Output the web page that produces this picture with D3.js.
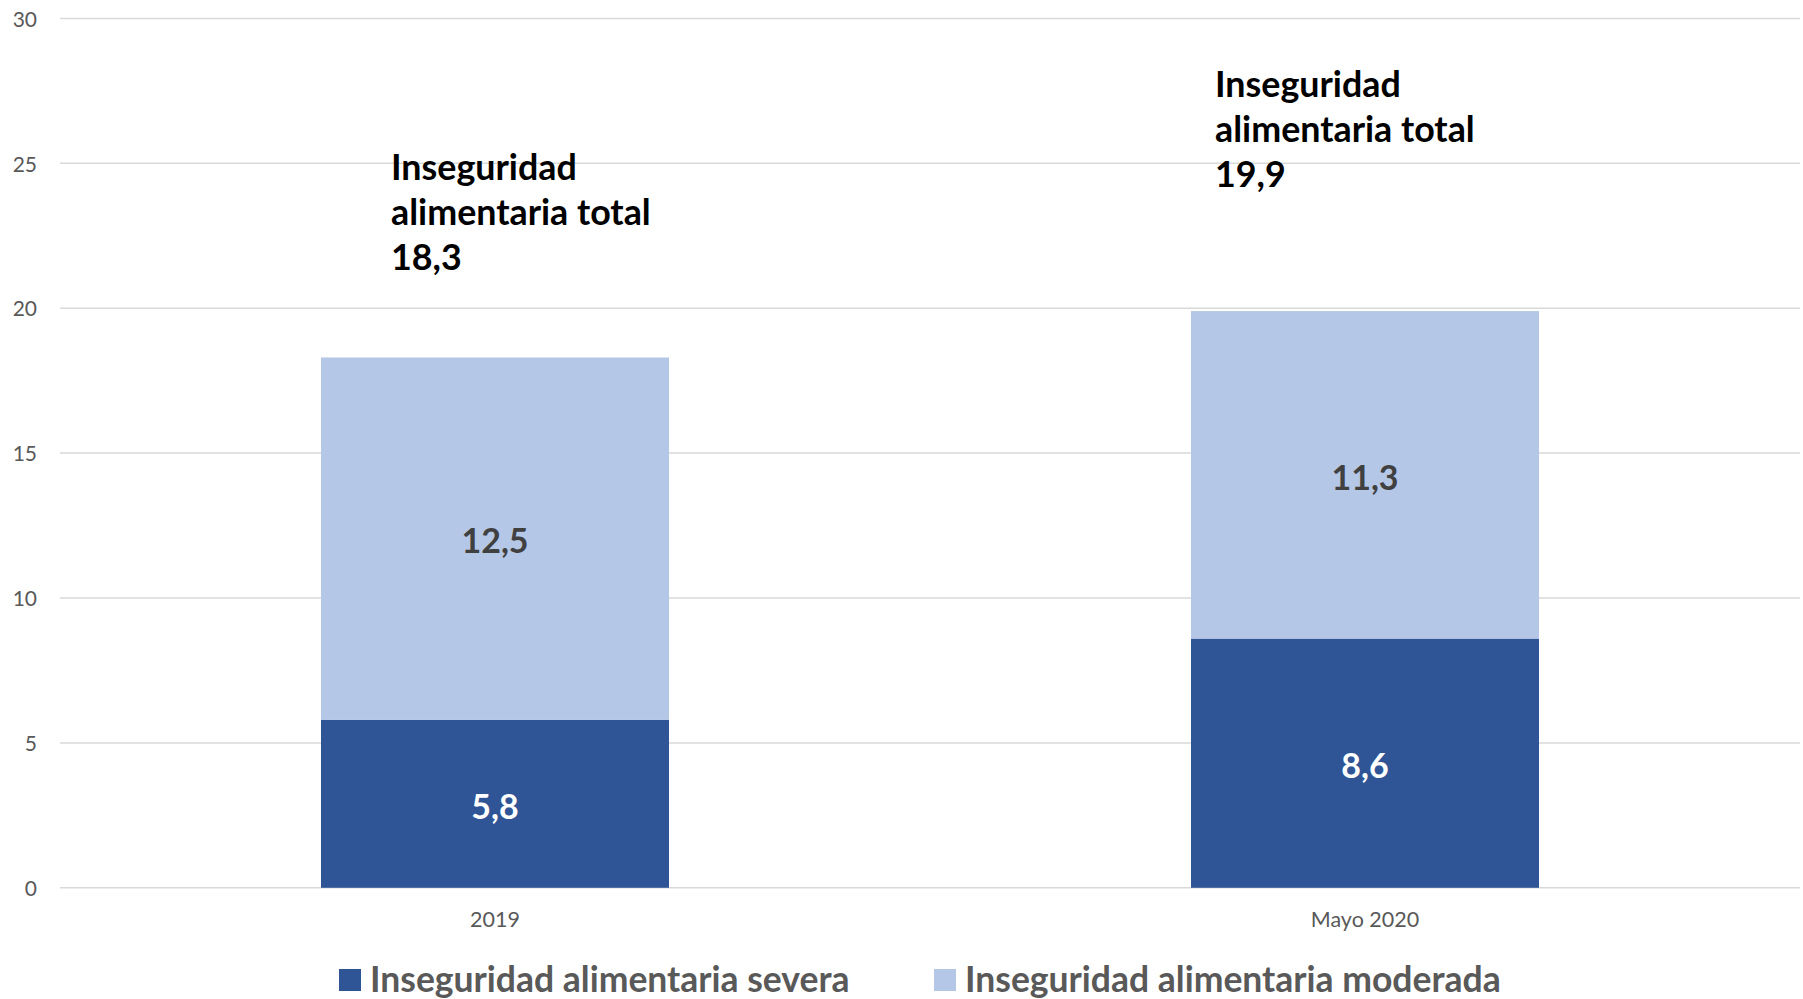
<!DOCTYPE html>
<html>
<head>
<meta charset="utf-8">
<script src="https://cdn.jsdelivr.net/npm/d3@7"></script>
<style>
  html, body { margin: 0; padding: 0; background: #fff; }
  svg { display: block; }
  text { font-family: Lato, "Open Sans", sans-serif; }
</style>
</head>
<body>
<svg id="chart" width="1803" height="999"></svg>
<script>
// ---- data ----
const categories = ["2019", "Mayo 2020"];
const severa = [5.8, 8.6];
const moderada = [12.5, 11.3];
const totals = [18.3, 19.9];
const seriesNames = ["Inseguridad alimentaria severa", "Inseguridad alimentaria moderada"];
const yTicks = [0, 5, 10, 15, 20, 25, 30];
const annotationLines = [
  ["Inseguridad", "alimentaria total", "18,3"],
  ["Inseguridad", "alimentaria total", "19,9"]
];

// ---- layout ----
const plotLeft = 60, plotRight = 1800, plotTop = 18.4, plotBottom = 887.8;
const colors = ["#2F5597", "#B4C7E7"];
const labelColors = ["#FFFFFF", "#404040"];
const fmt = v => d3.format(".1f")(v).replace(".", ",");

const svg = d3.select("#chart");

const x = d3.scaleBand().domain(categories).range([plotLeft, plotRight]).paddingInner(0.6).paddingOuter(0.3);
const y = d3.scaleLinear().domain([0, 30]).range([plotBottom, plotTop]);

// gridlines
svg.append("g").selectAll("line").data(yTicks).join("line")
  .attr("x1", plotLeft).attr("x2", plotRight)
  .attr("y1", d => y(d)).attr("y2", d => y(d))
  .attr("stroke", "#D9D9D9").attr("stroke-width", 1.5);

// y axis labels
const yAxis = d3.axisLeft(y).tickValues(yTicks).tickSize(0).tickPadding(0);
const yg = svg.append("g").attr("transform", `translate(${37},1)`).call(yAxis);
yg.select(".domain").remove();
yg.selectAll("text").attr("font-size", 21).attr("fill", "#595959").style("font-family", "Lato, sans-serif");

// stacked data
const table = categories.map((c, i) => ({cat: c, severa: severa[i], moderada: moderada[i]}));
const stack = d3.stack().keys(["severa", "moderada"])(table);

const groups = svg.append("g").selectAll("g").data(stack).join("g")
  .attr("fill", (d, i) => colors[i]);
groups.selectAll("rect").data(d => d).join("rect")
  .attr("x", d => x(d.data.cat))
  .attr("width", x.bandwidth())
  .attr("y", d => y(d[1]))
  .attr("height", d => y(d[0]) - y(d[1]));

// value labels
stack.forEach((s, si) => {
  svg.append("g").selectAll("text").data(s).join("text")
    .attr("x", d => x(d.data.cat) + x.bandwidth() / 2)
    .attr("y", d => y((d[0] + d[1]) / 2) + 3)
    .attr("dy", "0.35em")
    .attr("text-anchor", "middle")
    .attr("font-size", 34).attr("font-weight", 700)
    .attr("fill", labelColors[si])
    .text(d => fmt(d[1] - d[0]));
});

// x axis labels
const xAxis = d3.axisBottom(x).tickSize(0).tickPadding(0);
const xg = svg.append("g").attr("transform", `translate(0,${919})`).call(xAxis);
xg.select(".domain").remove();
xg.selectAll("text").attr("font-size", 21.5).attr("fill", "#595959").attr("dy", "0.35em").style("font-family", "Lato, sans-serif");

// annotations (total)
const annotX = [391, 1215];
const annotTopY = [167, 84];
annotationLines.forEach((lines, i) => {
  const t = svg.append("text")
    .attr("x", annotX[i]).attr("y", annotTopY[i])
    .attr("font-size", 35.8).attr("font-weight", 700).attr("fill", "#000");
  lines.forEach((l, j) => {
    t.append("tspan").attr("x", annotX[i]).attr("y", annotTopY[i] + j * 45).attr("dy", "0.35em").text(l);
  });
});

// legend
const legendX = [339, 934];
const legY = 980;
const lg = svg.append("g").selectAll("g").data(seriesNames).join("g")
  .attr("transform", (d, i) => `translate(${legendX[i]},${legY})`);
lg.append("rect").attr("x", 0).attr("y", -11).attr("width", 22).attr("height", 22)
  .attr("fill", (d, i) => colors[i]);
lg.append("text").attr("x", 31).attr("dy", "0.35em")
  .attr("font-size", 35.5).attr("font-weight", 700).attr("fill", "#595959")
  .text(d => d);
</script>
</body>
</html>
